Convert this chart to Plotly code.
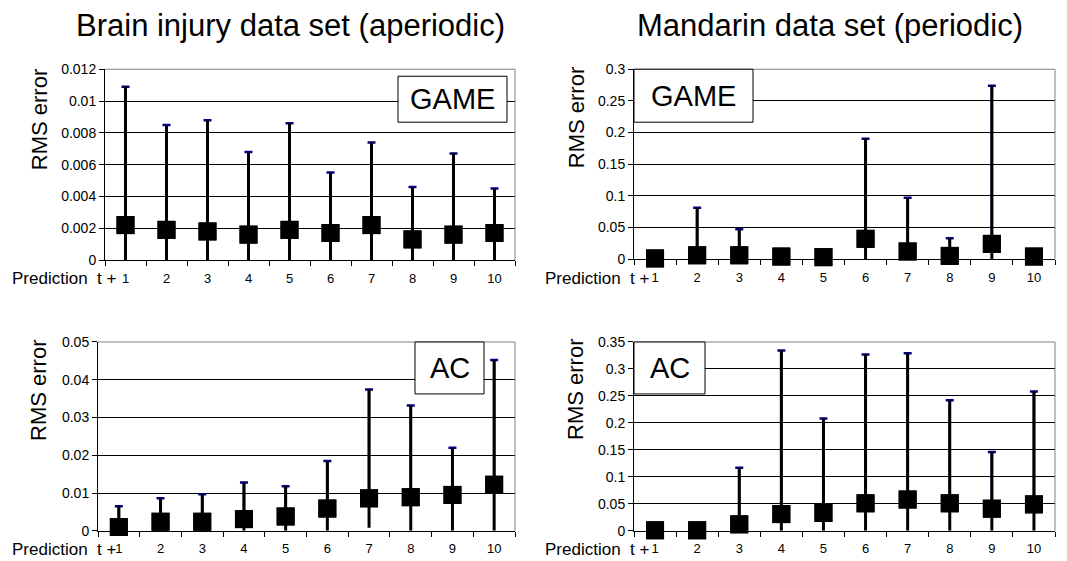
import plotly.graph_objects as go

# ---------------- data ----------------
steps = ["1", "2", "3", "4", "5", "6", "7", "8", "9", "10"]

brain_game_mean = [0.0022, 0.0019, 0.0018, 0.0016, 0.0019, 0.0017, 0.0022, 0.0013, 0.0016, 0.0017]
brain_game_high = [0.0109, 0.0085, 0.0088, 0.0068, 0.0086, 0.0055, 0.0074, 0.0046, 0.0067, 0.0045]
brain_game_low = [0, 0, 0, 0, 0, 0, 0, 0, 0, 0]

mand_game_mean = [0.001, 0.006, 0.006, 0.004, 0.003, 0.032, 0.012, 0.005, 0.024, 0.004]
mand_game_high = [0.001, 0.081, 0.047, 0.004, 0.003, 0.190, 0.097, 0.033, 0.274, 0.004]
mand_game_low = [0, 0, 0, 0, 0, 0, 0, 0, 0, 0]

brain_ac_mean = [0.0010, 0.0024, 0.0024, 0.0031, 0.0038, 0.0059, 0.0086, 0.0089, 0.0095, 0.0122]
brain_ac_high = [0.0065, 0.0086, 0.0097, 0.0128, 0.0118, 0.0185, 0.0374, 0.0332, 0.0220, 0.0452]
brain_ac_low = [0, 0, 0, 0, 0, 0, 0.0008, 0, 0, 0]

mand_ac_mean = [0.001, 0.001, 0.012, 0.031, 0.033, 0.051, 0.058, 0.051, 0.041, 0.049]
mand_ac_high = [0.001, 0.001, 0.117, 0.334, 0.208, 0.327, 0.329, 0.242, 0.146, 0.258]
mand_ac_low = [0, 0, 0, 0, 0, 0, 0, 0, 0, 0]

col_titles = ["Brain injury data set (aperiodic)", "Mandarin data set (periodic)"]
method_labels = ["GAME", "GAME", "AC", "AC"]
y_ranges = [0.012, 0.3, 0.05, 0.35]
y_dticks = [0.002, 0.05, 0.01, 0.05]

# ---------------- layout helpers (pixels of the 1067x561 window) ----------------
PAGE_W, PAGE_H = 1067, 561
OFF = 8  # default page body margin
W, H = PAGE_W - OFF, PAGE_H - OFF
FONT = "Arial, Liberation Sans, sans-serif"
# empirical vertical calibration of the rendered page
Y_OFF, Y_SCALE = 14.7, 0.972


def fx(x):
    return (x - OFF) / W


def fy(y):
    return 1 - ((y - Y_OFF) / Y_SCALE) / H


# plot areas: (left, right, top, bottom) in window pixels
areas = [
    (105, 515, 68, 259),
    (634, 1055, 68, 258),
    (98, 515, 341, 530),
    (634, 1055, 341, 530),
]
# method label boxes: (left, right, top, bottom)
boxes = [
    (398, 507, 75, 121),
    (634, 753, 68, 121),
    (415, 484, 341, 393),
    (634, 705, 341, 393),
]
ytitle_pos = [(39, 119), (576, 117), (39, 390), (576, 389)]
pred_label_pos = [(118, 277), (651, 277), (118, 549), (651, 549)]

series = [
    (brain_game_mean, brain_game_high, brain_game_low),
    (mand_game_mean, mand_game_high, mand_game_low),
    (brain_ac_mean, brain_ac_high, brain_ac_low),
    (mand_ac_mean, mand_ac_high, mand_ac_low),
]

fig = go.Figure()
layout = dict(
    width=W,
    height=H,
    margin=dict(l=0, r=0, t=0, b=0),
    paper_bgcolor="white",
    plot_bgcolor="white",
    showlegend=False,
    font=dict(family=FONT, color="black"),
)
shapes = []
annotations = []

for i, (mean, high, low) in enumerate(series):
    n = i + 1
    xa = "x" if n == 1 else f"x{n}"
    ya = "y" if n == 1 else f"y{n}"
    plus = [h - m for h, m in zip(high, mean)]
    minus = [m - l for m, l in zip(mean, low)]
    # navy caps (upper end only)
    fig.add_trace(go.Scatter(
        x=steps, y=mean, xaxis=xa, yaxis=ya, mode="markers",
        marker=dict(symbol="square", size=18, color="black"),
        error_y=dict(type="data", symmetric=False, array=plus,
                     arrayminus=[0] * len(mean), color="#000080",
                     thickness=2.5, width=4),
        cliponaxis=False, hoverinfo="skip",
    ))
    # black stems
    fig.add_trace(go.Scatter(
        x=steps, y=mean, xaxis=xa, yaxis=ya, mode="markers",
        marker=dict(symbol="square", size=18, color="black"),
        error_y=dict(type="data", symmetric=False, array=plus,
                     arrayminus=minus, color="black",
                     thickness=3, width=0),
        cliponaxis=False,
    ))

    l, r, t, b = areas[i]
    xkey = "xaxis" if n == 1 else f"xaxis{n}"
    ykey = "yaxis" if n == 1 else f"yaxis{n}"
    layout[xkey] = dict(
        domain=[fx(l), fx(r)], anchor=ya, type="category",
        showline=True, linecolor="black", linewidth=1,
        ticks="outside", ticklen=5, tickcolor="black", tickson="boundaries",
        showgrid=False, zeroline=False, ticklabelstandoff=6,
        tickfont=dict(size=13, family=FONT, color="black"),
        range=[-0.5, 9.5], fixedrange=True,
    )
    layout[ykey] = dict(
        domain=[fy(b), fy(t)], anchor=xa,
        range=[0, y_ranges[i]], dtick=y_dticks[i], tick0=0,
        showline=True, linecolor="black", linewidth=1,
        ticks="outside", ticklen=5, tickcolor="black",
        showgrid=True, gridcolor="black", gridwidth=1,
        zeroline=False,
        tickfont=dict(size=14, family=FONT, color="black"),
        fixedrange=True,
    )
    # gray top/right frame
    shapes.append(dict(type="line", xref="paper", yref="paper",
                       x0=fx(l), x1=fx(r), y0=fy(t), y1=fy(t),
                       line=dict(color="#808080", width=1), layer="above"))
    shapes.append(dict(type="line", xref="paper", yref="paper",
                       x0=fx(r), x1=fx(r), y0=fy(t), y1=fy(b),
                       line=dict(color="#808080", width=1), layer="above"))
    # method label box
    bl, br, bt, bb = boxes[i]
    shapes.append(dict(type="rect", xref="paper", yref="paper",
                       x0=fx(bl), x1=fx(br), y0=fy(bb), y1=fy(bt),
                       line=dict(color="black", width=1), fillcolor="white",
                       layer="above"))
    annotations.append(dict(text=method_labels[i], xref="paper", yref="paper",
                            x=fx((bl + br) / 2), y=fy((bt + bb) / 2),
                            xanchor="center", yanchor="middle", showarrow=False,
                            font=dict(size=29, family=FONT, color="black")))
    # y title
    tx, ty = ytitle_pos[i]
    annotations.append(dict(text="RMS error", xref="paper", yref="paper",
                            x=fx(tx), y=fy(ty), xanchor="center", yanchor="middle",
                            textangle=-90, showarrow=False,
                            font=dict(size=22, family=FONT, color="black")))
    # "Prediction t +" label
    px_, py_ = pred_label_pos[i]
    annotations.append(dict(text="Prediction  t +", xref="paper", yref="paper",
                            x=fx(px_), y=fy(py_), xanchor="right", yanchor="middle",
                            showarrow=False,
                            font=dict(size=17, family=FONT, color="black")))

# column titles
for cx, title in zip([290, 830], col_titles):
    annotations.append(dict(text=title, xref="paper", yref="paper",
                            x=fx(cx), y=fy(24), xanchor="center", yanchor="middle",
                            showarrow=False,
                            font=dict(size=31, family=FONT, color="black")))

layout["shapes"] = shapes
layout["annotations"] = annotations
fig.update_layout(**layout)

fig.write_html("out.html")
